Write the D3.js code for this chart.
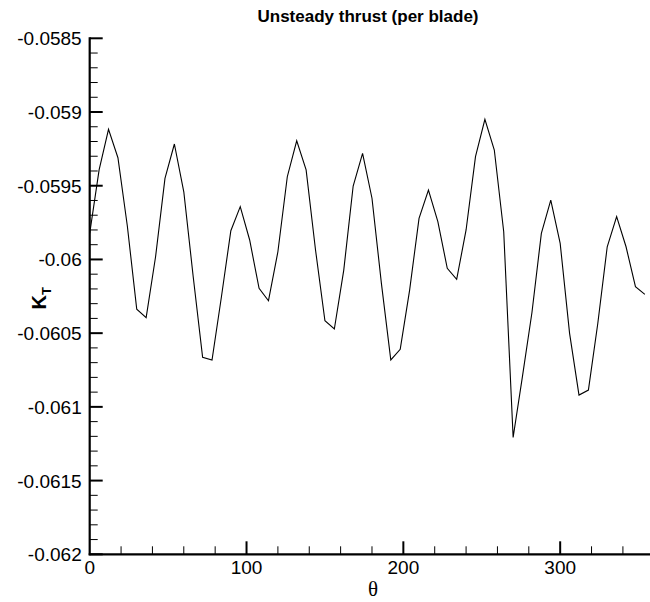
<!DOCTYPE html>
<html><head><meta charset="utf-8">
<script src="https://cdn.jsdelivr.net/npm/d3@7"></script>
<style>body{margin:0;background:#fff}svg{display:block}</style>
</head><body>
<svg id="c" width="650" height="602"></svg>
<script>
const theta = d3.range(0, 360, 6);
const kt = [
 -0.059823, -0.059393, -0.059117, -0.059310, -0.059773, -0.060338, -0.060395, -0.059982,
 -0.059450, -0.059217, -0.059541, -0.060117, -0.060664, -0.060682, -0.060253, -0.059805,
 -0.059642, -0.059868, -0.060196, -0.060280, -0.059948, -0.059439, -0.059195, -0.059393,
 -0.059936, -0.060416, -0.060472, -0.060072, -0.059502, -0.059280, -0.059585, -0.060162,
 -0.060682, -0.060610, -0.060208, -0.059721, -0.059529, -0.059744, -0.060060, -0.060135,
 -0.059800, -0.059303, -0.059050, -0.059258, -0.059812, -0.061207, -0.060790, -0.060360,
 -0.059823, -0.059597, -0.059891, -0.060501, -0.060920, -0.060886, -0.060433, -0.059914,
 -0.059710, -0.059914, -0.060185, -0.060237
];
const xMajor = [0, 100, 200, 300];
const yMajor = [-0.0585, -0.059, -0.0595, -0.06, -0.0605, -0.061, -0.0615, -0.062];
const yLabels = ["-0.0585", "-0.059", "-0.0595", "-0.06", "-0.0605", "-0.061", "-0.0615", "-0.062"];
const title = "Unsteady thrust (per blade)";

const svg = d3.select("#c");
const x = d3.scaleLinear().domain([0, 356]).range([89.7, 648]);
const y = d3.scaleLinear().domain([-0.062, -0.0585]).range([554.3, 38.3]);
const font = "'Liberation Sans', Arial, sans-serif";

// line
svg.append("path")
  .datum(theta.map((t, i) => [t, kt[i]]))
  .attr("d", d3.line().x(d => x(d[0])).y(d => y(d[1])))
  .attr("fill", "none").attr("stroke", "#000").attr("stroke-width", 1.1);

// X axis
const xMinor = d3.range(20, 356, 20).filter(v => v % 100 !== 0);
const gx = svg.append("g").attr("transform", `translate(0,${y(-0.062)})`);
gx.append("line").attr("x1", 88.7).attr("x2", 650).attr("stroke", "#000").attr("stroke-width", 2.2);
gx.selectAll(".mj").data(xMajor.filter(v => v > 0)).enter().append("line")
  .attr("x1", d => x(d)).attr("x2", d => x(d)).attr("y1", 0).attr("y2", -13)
  .attr("stroke", "#000").attr("stroke-width", 2);
gx.selectAll(".mn").data(xMinor).enter().append("line")
  .attr("x1", d => x(d)).attr("x2", d => x(d)).attr("y1", 0).attr("y2", -8)
  .attr("stroke", "#000").attr("stroke-width", 1);
gx.selectAll("text").data(xMajor).enter().append("text")
  .attr("x", d => x(d)).attr("y", 20).attr("text-anchor", "middle")
  .attr("font-family", font).attr("font-size", 19).text(d => d);

// Y axis
const yMinor = d3.range(1, 35).map(i => -0.062 + i * 0.0001).filter((v, i) => (i + 1) % 5 !== 0);
const gy = svg.append("g").attr("transform", `translate(${x(0)},0)`);
gy.append("line").attr("y1", y(-0.062) + 1).attr("y2", y(-0.0585) - 1).attr("stroke", "#000").attr("stroke-width", 2.2);
gy.selectAll(".mj").data(yMajor).enter().append("line")
  .attr("y1", d => y(d)).attr("y2", d => y(d)).attr("x1", 0).attr("x2", 13)
  .attr("stroke", "#000").attr("stroke-width", 2);
gy.selectAll(".mn").data(yMinor).enter().append("line")
  .attr("y1", d => y(d)).attr("y2", d => y(d)).attr("x1", 0).attr("x2", 8)
  .attr("stroke", "#000").attr("stroke-width", 1);
gy.selectAll("text").data(yMajor).enter().append("text")
  .attr("x", -8).attr("y", d => y(d) + 7).attr("text-anchor", "end")
  .attr("font-family", font).attr("font-size", 19).text((d, i) => yLabels[i]);

// Title
svg.append("text").attr("x", 368).attr("y", 22).attr("text-anchor", "middle")
  .attr("font-family", font).attr("font-weight", "bold").attr("font-size", 17).text(title);

// Y label K_T
const yl = svg.append("text").attr("transform", `translate(46,${(y(-0.062)+y(-0.0585))/2 + 2}) rotate(-90)`)
  .attr("text-anchor", "middle").attr("font-family", font).attr("font-weight", "bold").attr("font-size", 20);
yl.append("tspan").text("K");
yl.append("tspan").attr("font-size", 13).attr("dy", 5).text("T");

// X label
svg.append("text").attr("x", 373).attr("y", 596).attr("text-anchor", "middle")
  .attr("font-family", "'Liberation Serif', 'Times New Roman', serif").attr("font-size", 21).text("θ");
</script>
</body></html>
